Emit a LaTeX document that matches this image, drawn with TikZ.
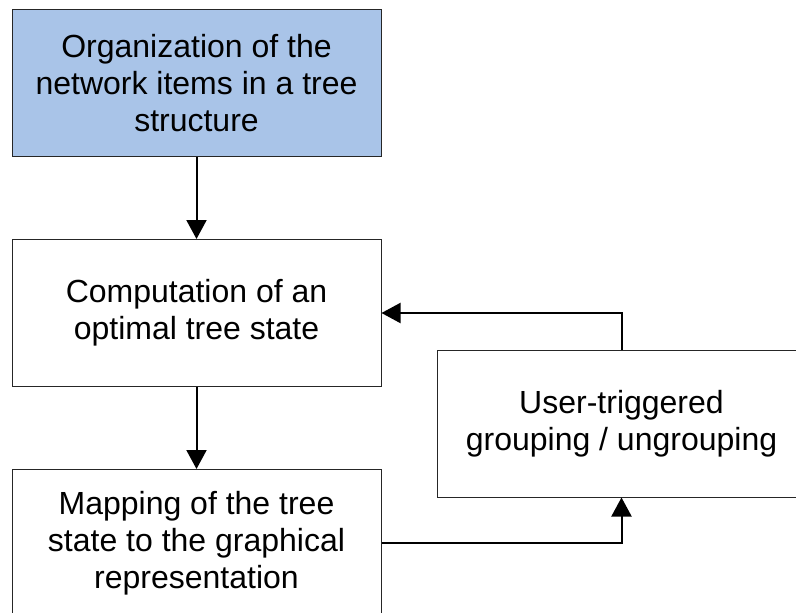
\documentclass[tikz,border=0pt]{standalone}
\usepackage{fontspec}
\setmainfont{Liberation Sans}
\usetikzlibrary{arrows.meta}
\definecolor{boxblue}{HTML}{A9C4E8}
\begin{document}
\begin{tikzpicture}[x=1pt,y=-1pt,
  box/.style={draw=black!85, line width=1pt, minimum width=369pt, minimum height=147pt,
    align=center, font=\fontsize{32}{37}\selectfont, inner sep=0pt},
  conn/.style={line width=2pt, -{Triangle[length=19pt,width=20pt]}}]
\useasboundingbox (0,0) rectangle (796,613);
\clip (0,0) rectangle (796,613);
\node[box, fill=boxblue] (org) at (196.5,83) {Organization of the\\network items in a tree\\structure};
\node[box] (comp) at (196.5,313) {Computation of an\\optimal tree state};
\node[box] (map) at (196.5,543) {Mapping of the tree\\state to the graphical\\representation};
\node[box] (user) at (621.5,423.5) {User-triggered\\grouping / ungrouping};
\draw[conn] (org) -- (comp);
\draw[conn] (comp) -- (map);
\draw[conn] (map.east) -| (user.south);
\draw[conn] (user.north) |- (comp.east);
\end{tikzpicture}
\end{document}
